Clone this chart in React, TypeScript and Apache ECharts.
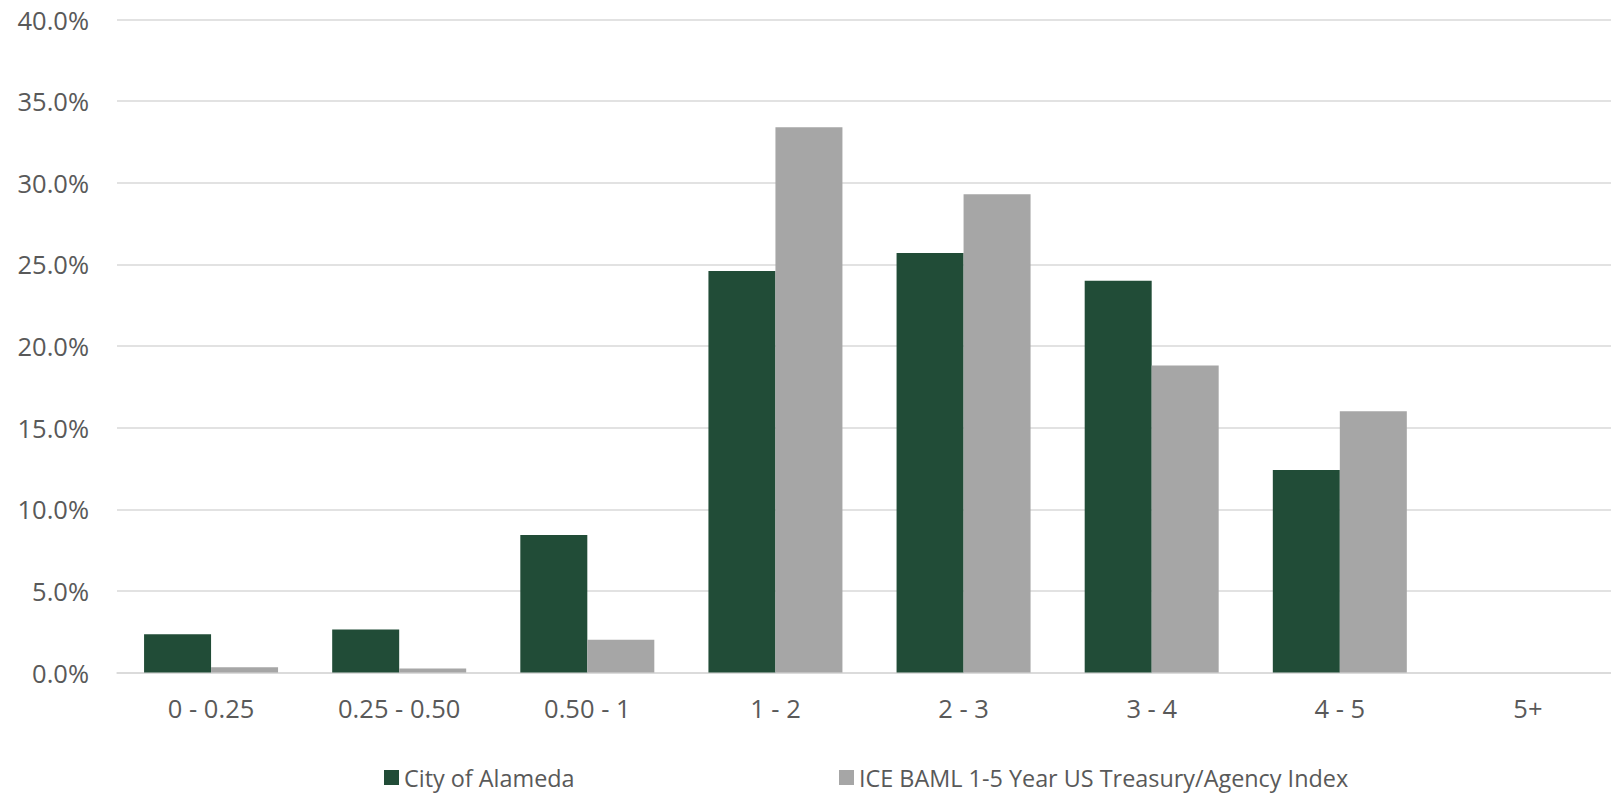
import React, { useEffect, useRef } from "react";
import * as echarts from "echarts";

const categories = ["0 - 0.25", "0.25 - 0.50", "0.50 - 1", "1 - 2", "2 - 3", "3 - 4", "4 - 5", "5+"];
const alameda = [2.34, 2.64, 8.42, 24.6, 25.7, 24.0, 12.4, 0];
const iceBaml = [0.32, 0.25, 2.0, 33.4, 29.3, 18.8, 16.0, 0];
const seriesNames = ["City of Alameda", "ICE BAML 1-5 Year US Treasury/Agency Index"];

const FONT = "Open Sans";
const TEXT = "#595959";

export default function App() {
  const ref = useRef<HTMLDivElement>(null);
  useEffect(() => {
    document.body.style.margin = "0";
    const chart = echarts.init(ref.current!, null, { renderer: "svg" });
    const legendCommon = {
      top: 766,
      padding: 0,
      itemWidth: 15,
      itemHeight: 15,
      itemGap: 7,
      icon: "rect",
      textStyle: { fontFamily: FONT, fontSize: 23.4, color: TEXT },
    };
    chart.setOption({
      animation: false,
      backgroundColor: "#ffffff",
      textStyle: { fontFamily: FONT },
      grid: { left: 117, right: 0, top: 19.5, bottom: 122.5, containLabel: false },
      legend: [
        { ...legendCommon, data: [seriesNames[0]], left: 384 },
        { ...legendCommon, data: [seriesNames[1]], left: 839 },
      ],
      xAxis: {
        type: "category",
        data: categories,
        axisLine: { show: true, lineStyle: { color: "#D9D9D9", width: 1.5 } },
        axisTick: { show: false },
        axisLabel: { color: TEXT, fontSize: 25.5, fontFamily: FONT, margin: 22 },
      },
      yAxis: {
        type: "value",
        min: 0,
        max: 40,
        interval: 5,
        axisLine: { show: false },
        axisTick: { show: false },
        splitLine: { lineStyle: { color: "#D9D9D9", width: 1.5 } },
        axisLabel: {
          color: TEXT,
          fontSize: 25.5,
          fontFamily: FONT,
          margin: 28,
          formatter: (v: number) => v.toFixed(1) + "%",
        },
      },
      series: [
        {
          name: seriesNames[0],
          type: "bar",
          data: alameda,
          barWidth: 67,
          barGap: "0%",
          itemStyle: { color: "#214C37" },
        },
        {
          name: seriesNames[1],
          type: "bar",
          data: iceBaml,
          barWidth: 67,
          barGap: "0%",
          itemStyle: { color: "#A6A6A6" },
        },
      ],
    });
    return () => chart.dispose();
  }, []);
  return (
    <div style={{ position: "absolute", left: 0, top: 0, width: 1611, height: 795, overflow: "hidden" }}>
      <div ref={ref} style={{ position: "absolute", left: 0, top: 0, width: 1622, height: 795 }} />
    </div>
  );
}
